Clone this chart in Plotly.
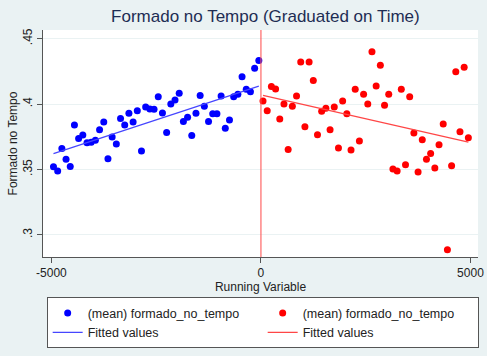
import numpy as np
import plotly.graph_objects as go

# Bin centres (Running Variable) and mean of formado_no_tempo
x_left = [-4950, -4850, -4750, -4650, -4550, -4450, -4350, -4250, -4150, -4050,
          -3950, -3850, -3750, -3650, -3550, -3450, -3350, -3250, -3150, -3050,
          -2950, -2850, -2750, -2650, -2550, -2450, -2350, -2250, -2150, -2050,
          -1950, -1850, -1750, -1650, -1550, -1450, -1350, -1250, -1150, -1050,
          -950, -850, -750, -650, -550, -450, -350, -250, -150, -50]
y_left = [0.352, 0.3487, 0.366, 0.3577, 0.3523, 0.3839, 0.3737, 0.3763, 0.3704, 0.3707,
          0.3722, 0.3804, 0.3862, 0.3582, 0.3747, 0.3694, 0.389, 0.3839, 0.3929, 0.3862,
          0.3949, 0.364, 0.3977, 0.3962, 0.3959, 0.4056, 0.3931, 0.3783, 0.400, 0.4031,
          0.4082, 0.3867, 0.3898, 0.376, 0.3929, 0.4066, 0.3982, 0.3867, 0.3926, 0.3926,
          0.4061, 0.3814, 0.3878, 0.4056, 0.4074, 0.4209, 0.4112, 0.4094, 0.4273, 0.4332]

x_right = [50, 150, 250, 350, 450, 550, 650, 750, 850, 950,
           1050, 1150, 1250, 1350, 1450, 1550, 1650, 1750, 1850, 1950,
           2050, 2150, 2250, 2350, 2450, 2550, 2650, 2750, 2850, 2950,
           3050, 3150, 3250, 3350, 3450, 3550, 3650, 3750, 3850, 3950,
           4050, 4150, 4250, 4350, 4450, 4550, 4650, 4750, 4850, 4950]
y_right = [0.4023, 0.3949, 0.4133, 0.4115, 0.3885, 0.400, 0.3653, 0.3982, 0.4061, 0.4321,
           0.3827, 0.4321, 0.4179, 0.3765, 0.3944, 0.3967, 0.3804, 0.3977, 0.3663, 0.4023,
           0.3926, 0.3648, 0.4112, 0.3717, 0.4074, 0.400, 0.440, 0.4138, 0.4296, 0.399,
           0.4074, 0.3503, 0.3487, 0.4112, 0.3536, 0.4056, 0.3778, 0.348, 0.3727, 0.3577,
           0.3622, 0.351, 0.3689, 0.3847, 0.2885, 0.3528, 0.4247, 0.3788, 0.4281, 0.3742]

x_ticks = [-5000, 0, 5000]
x_ticklabels = ["-5000", "0", "5000"]
y_ticks = [0.30, 0.35, 0.40, 0.45]
y_ticklabels = [".3", ".35", ".4", ".45"]

# Linear fits on each side of the cutoff
bl = np.polyfit(x_left, y_left, 1)
br = np.polyfit(x_right, y_right, 1)
fx_left = np.array([min(x_left), max(x_left)])
fx_right = np.array([min(x_right), max(x_right)])

BG = "#EAF2F3"
FONT = "Liberation Sans, Arial, sans-serif"

fig = go.Figure()
fig.add_trace(go.Scatter(x=x_left, y=y_left, mode="markers",
                         marker=dict(color="#0000FF", size=7),
                         name="(mean) formado_no_tempo"))
fig.add_trace(go.Scatter(x=x_right, y=y_right, mode="markers",
                         marker=dict(color="#FF0000", size=7),
                         name="(mean) formado_no_tempo"))
fig.add_trace(go.Scatter(x=fx_left, y=np.polyval(bl, fx_left), mode="lines",
                         line=dict(color="#4646FF", width=1.2),
                         name="Fitted values"))
fig.add_trace(go.Scatter(x=fx_right, y=np.polyval(br, fx_right), mode="lines",
                         line=dict(color="#FF4646", width=1.2),
                         name="Fitted values"))

fig.add_shape(type="line", xref="x", yref="paper", x0=0, x1=0, y0=0, y1=1,
              line=dict(color="rgba(255,80,80,0.7)", width=1.5))

fig.update_layout(
    width=487, height=356,
    margin=dict(l=43, r=9, t=30, b=99, autoexpand=False),
    paper_bgcolor=BG, plot_bgcolor="white",
    font=dict(family=FONT, color="#222222", size=12),
    title=dict(text="Formado no Tempo (Graduated on Time)", x=0.545, xanchor="center",
               y=0.955, yanchor="middle",
               font=dict(size=17, color="#1E2D53", family=FONT)),
    xaxis=dict(range=[-5200, 5180], tickvals=x_ticks, ticktext=x_ticklabels,
               showgrid=False, zeroline=False, showline=True, linecolor="#555555",
               linewidth=1, ticks="outside", ticklen=5, tickcolor="#555555",
               title=dict(text="Running Variable", font=dict(size=12), standoff=2),
               tickfont=dict(size=12)),
    yaxis=dict(range=[0.283, 0.4566], tickvals=y_ticks, ticktext=y_ticklabels,
               tickangle=-90, showgrid=True, gridcolor=BG, gridwidth=1.2,
               zeroline=False, showline=True, linecolor="#555555", linewidth=1,
               ticks="outside", ticklen=5, tickcolor="#555555",
               title=dict(text="Formado no Tempo", font=dict(size=12), standoff=1),
               tickfont=dict(size=12)),
    legend=dict(orientation="h", x=0.505, xanchor="center", y=-0.178, yanchor="top",
                bgcolor="white", bordercolor="#555555", borderwidth=1,
                entrywidth=170, entrywidthmode="pixels",
                font=dict(size=12.5, color="#222222"), tracegroupgap=0),
    showlegend=True,
)

fig.write_html("out.html")
